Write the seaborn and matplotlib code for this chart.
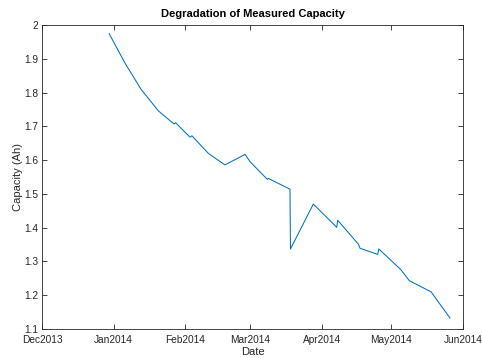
import matplotlib
matplotlib.use("Agg")
import matplotlib.pyplot as plt
import matplotlib.dates as mdates
from matplotlib.ticker import FuncFormatter
import pandas as pd
import seaborn as sns

# Measured capacity over the test campaign
dates = [
    "2013-12-30 00:00", "2014-01-05 22:00", "2014-01-12 17:00", "2014-01-20 07:00",
    "2014-01-27 02:00", "2014-01-27 18:00", "2014-02-03 00:00", "2014-02-03 20:00",
    "2014-02-10 22:00", "2014-02-18 02:00", "2014-02-26 19:00", "2014-03-01 00:00",
    "2014-03-08 10:00", "2014-03-08 20:00", "2014-03-18 05:00", "2014-03-18 10:00",
    "2014-03-28 07:00", "2014-04-07 10:00", "2014-04-07 20:00", "2014-04-16 19:00",
    "2014-04-17 12:00", "2014-04-25 03:00", "2014-04-25 14:00", "2014-05-04 12:00",
    "2014-05-05 05:00", "2014-05-08 19:00", "2014-05-18 05:00", "2014-05-26 10:00",
]
capacity = [
    1.975, 1.887, 1.811, 1.746,
    1.707, 1.711, 1.668, 1.672,
    1.620, 1.586, 1.617, 1.595,
    1.543, 1.546, 1.514, 1.337,
    1.470, 1.401, 1.422, 1.351,
    1.339, 1.321, 1.337, 1.280,
    1.275, 1.243, 1.210, 1.132,
]

month_ticks = ["2013-12-01", "2014-01-01", "2014-02-01", "2014-03-01",
               "2014-04-01", "2014-05-01", "2014-06-01"]
cap_ticks = [1.1, 1.2, 1.3, 1.4, 1.5, 1.6, 1.7, 1.8, 1.9, 2.0]

df = pd.DataFrame({"Date": pd.to_datetime(dates), "Capacity": capacity})

sns.set_style("ticks")
plt.rcParams["font.family"] = ["Liberation Sans", "DejaVu Sans"]
plt.rcParams["axes.edgecolor"] = "#262626"
plt.rcParams["axes.linewidth"] = 0.6

fig = plt.figure(figsize=(4.82, 3.58), dpi=100)
ax = fig.add_axes([0.0871, 0.081, 0.8735, 0.849])

sns.lineplot(data=df, x="Date", y="Capacity", ax=ax, color="#0072BD",
             linewidth=0.75, estimator=None, sort=False)

tick_dates = pd.to_datetime(month_ticks)
ax.set_xlim(tick_dates[0], tick_dates[-1])
ax.set_xticks(tick_dates)
ax.xaxis.set_major_formatter(mdates.DateFormatter("%b%Y"))
ax.set_ylim(1.1, 2.0)
ax.set_yticks(cap_ticks)
ax.yaxis.set_major_formatter(FuncFormatter(lambda v, p: f"{v:g}"))

ax.tick_params(direction="in", length=3.5, width=0.6, labelsize=7.3,
               colors="#262626", top=True, right=True)
ax.tick_params(axis="x", labeltop=False, pad=4)
ax.tick_params(axis="y", labelright=False, pad=2.5)
for s in ax.spines.values():
    s.set_visible(True)
    s.set_color("#262626")

ax.set_xlabel("Date", fontsize=8, color="#262626", labelpad=2)
ax.set_ylabel("Capacity (Ah)", fontsize=8, color="#262626", labelpad=1)
ax.set_title("Degradation of Measured Capacity", fontsize=8, fontweight="bold",
             color="black", pad=5.5)

fig.savefig("out.png", dpi=100)
